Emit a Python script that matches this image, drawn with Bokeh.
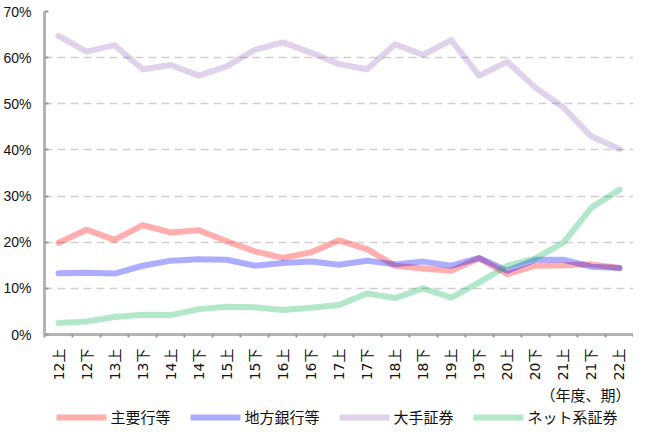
import math
from bokeh.plotting import figure
from bokeh.layouts import column
from bokeh.models import (Range1d, FixedTicker, PrintfTickFormatter, Legend, LegendItem,
                          Label, ColumnDataSource)
from bokeh.embed import file_html
from bokeh.resources import INLINE

categories = ["12上", "12下", "13上", "13下", "14上", "14下", "15上", "15下", "16上", "16下",
              "17上", "17下", "18上", "18下", "19上", "19下", "20上", "20下", "21上", "21下", "22上"]
major_banks = [19.9, 22.7, 20.5, 23.7, 22.1, 22.6, 20.2, 18.0, 16.6, 17.8,
               20.4, 18.5, 14.9, 14.3, 13.8, 16.5, 13.1, 14.9, 15.0, 15.2, 14.4]
regional_banks = [13.3, 13.4, 13.2, 14.9, 16.0, 16.3, 16.2, 14.9, 15.5, 15.8,
                  15.1, 16.0, 15.2, 15.8, 14.9, 16.6, 13.8, 16.2, 16.2, 14.7, 14.4]
large_sec = [64.7, 61.3, 62.7, 57.5, 58.4, 56.1, 58.1, 61.7, 63.3, 61.1,
             58.6, 57.5, 62.9, 60.6, 63.8, 56.1, 59.1, 53.5, 49.2, 42.9, 40.2]
net_sec = [2.5, 2.8, 3.8, 4.3, 4.2, 5.5, 6.0, 5.9, 5.3, 5.8,
           6.4, 8.9, 7.9, 10.0, 8.0, 11.3, 14.9, 16.5, 19.9, 27.5, 31.4]
series_names = ["主要行等", "地方銀行等", "大手証券", "ネット系証券"]
y_ticks = [0, 10, 20, 30, 40, 50, 60, 70]
unit_label = "（年度、期）"

idx = list(range(len(categories)))
src = ColumnDataSource(dict(x=idx, major=major_banks, regional=regional_banks,
                            large=large_sec, net=net_sec))

p = figure(frame_width=589, frame_height=323, output_backend="svg", toolbar_location=None,
           x_range=Range1d(-0.5, len(categories) - 0.5), y_range=Range1d(0, 70),
           min_border_left=41, min_border_right=0, min_border_top=11, min_border_bottom=46)
p.outline_line_color = None
p.background_fill_color = "white"
p.border_fill_color = "white"

# axes
p.xaxis.ticker = FixedTicker(ticks=idx, minor_ticks=[i - 0.5 for i in range(len(categories) + 1)])
p.xaxis.major_label_overrides = {i: c for i, c in enumerate(categories)}
p.xaxis.major_label_orientation = math.pi / 2
p.xaxis.major_tick_line_color = None
p.xaxis.minor_tick_line_color = "#999999"
p.xaxis.minor_tick_line_width = 2
p.xaxis.minor_tick_in = 0
p.xaxis.minor_tick_out = 3
p.xaxis.axis_line_color = "#b4b4b4"
p.xaxis.axis_line_width = 3
p.xaxis.major_label_text_font = "DejaVu Sans, Noto Sans CJK JP"
p.xaxis.major_label_text_font_size = "14px"
p.xaxis.major_label_text_color = "#111111"
p.xaxis.major_label_standoff = 8

p.yaxis.ticker = FixedTicker(ticks=y_ticks)
p.yaxis.formatter = PrintfTickFormatter(format="%d%%")
p.yaxis.axis_line_color = "#b4b4b4"
p.yaxis.axis_line_width = 3
p.yaxis.major_tick_line_color = "#999999"
p.yaxis.major_tick_line_width = 2
p.yaxis.major_tick_in = 4
p.yaxis.major_tick_out = 0
p.yaxis.minor_tick_line_color = None
p.yaxis.major_label_text_font = "Liberation Sans"
p.yaxis.major_label_text_font_size = "14px"
p.yaxis.major_label_text_color = "#111111"
p.yaxis.major_label_standoff = 13

p.xgrid.grid_line_color = None
p.ygrid.grid_line_color = "#d0d0d0"
p.ygrid.grid_line_width = 1.5
p.ygrid.grid_line_dash = "8 5"

colors = ["#FF0000", "#0000FF", "#7030A0", "#00B050"]
alphas = [0.32, 0.32, 0.22, 0.3]
fields = ["major", "regional", "large", "net"]
for f, c, a in zip(fields, colors, alphas):
    p.line("x", f, source=src, line_color=c, line_alpha=a, line_width=6,
           line_join="round", line_cap="round")

# legend strip below the chart (key swatches only; NaN data draws no marks)
p2 = figure(width=630, height=44, output_backend="svg", toolbar_location=None,
            x_range=Range1d(0, 1), y_range=Range1d(0, 1), x_axis_type=None, y_axis_type=None,
            min_border_left=0, min_border_right=0, min_border_top=0, min_border_bottom=0)
p2.outline_line_color = None
p2.grid.visible = False
items = []
for c, a, name in zip(colors, alphas, series_names):
    r = p2.line(x=[float("nan")], y=[float("nan")], line_color=c, line_alpha=a,
                line_width=6, line_cap="round")
    items.append(LegendItem(label=name, renderers=[r]))

legend = Legend(items=items, orientation="horizontal", location="bottom_center",
                glyph_width=50, glyph_height=20, label_height=20, label_standoff=4,
                spacing=20, padding=0, margin=0, border_line_color=None,
                background_fill_alpha=0, label_text_font="Noto Sans CJK JP",
                label_text_font_size="15px", label_text_color="#111111")
p2.add_layout(legend, "center")

p2.add_layout(Label(x=1, y=0.75, text=unit_label,
                    text_align="right", text_baseline="middle", text_font="Noto Sans CJK JP",
                    text_font_size="15px", text_color="#111111"))

layout = column(p, p2, spacing=0)
open("out.html", "w").write(file_html(layout, INLINE))
